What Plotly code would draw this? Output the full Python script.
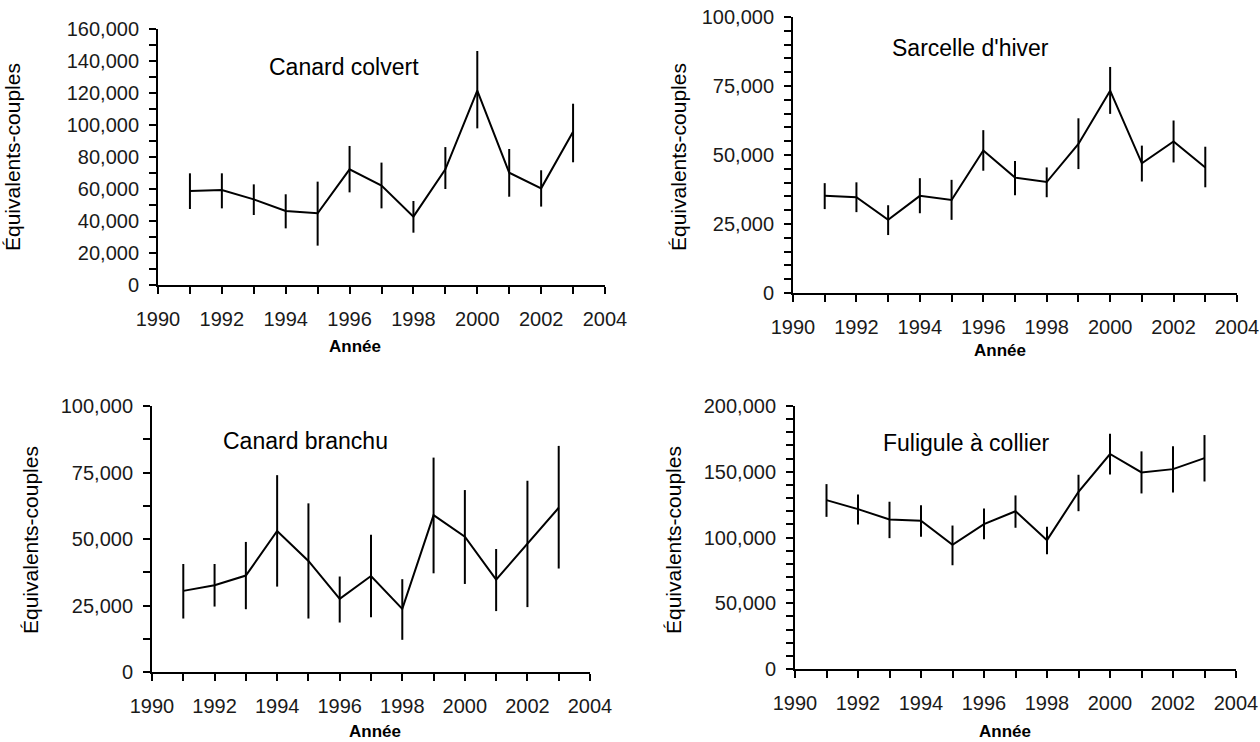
import plotly.graph_objects as go
from plotly.subplots import make_subplots

years = list(range(1991, 2004))

# Canard colvert
colvert = [58750, 59400, 53500, 46250, 44800, 72300, 62100, 42700, 72300, 121500, 70200, 60400, 95800]
colvert_hi = [69800, 69800, 62900, 56700, 64600, 86900, 76500, 52500, 86200, 146250, 85000, 71700, 113300]
colvert_lo = [47500, 47900, 43750, 35400, 24600, 57900, 47900, 32700, 60000, 97900, 55200, 49000, 76700]

# Sarcelle d'hiver
sarcelle = [35200, 34700, 26500, 35200, 33700, 51600, 41800, 40200, 54000, 73300, 47000, 54900, 45500]
sarcelle_hi = [39800, 40100, 31800, 41600, 41000, 59000, 47800, 45500, 63300, 81900, 53400, 62500, 53000]
sarcelle_lo = [30400, 29300, 21000, 28900, 26500, 44300, 35400, 34700, 44900, 64900, 40400, 47300, 38300]

# Canard branchu
branchu = [30500, 32600, 36250, 53000, 41750, 27500, 36100, 23750, 59000, 50900, 34750, 48400, 61750]
branchu_hi = [40600, 40600, 48900, 74000, 63400, 35900, 51600, 34900, 80600, 68400, 46250, 71900, 85000]
branchu_lo = [20100, 24600, 23600, 32100, 20100, 18600, 20600, 12100, 37100, 33100, 22900, 24400, 38900]

# Fuligule à collier
fuligule = [128400, 121600, 113700, 112700, 94400, 110200, 120000, 98000, 134800, 163500, 149500, 152000, 160400]
fuligule_hi = [140600, 132700, 127200, 124600, 109100, 122100, 132000, 108100, 147700, 178900, 165500, 169300, 177900]
fuligule_lo = [115700, 109900, 99500, 100500, 78900, 98700, 107400, 87300, 120000, 148000, 133500, 134300, 142600]

titles = ["Canard colvert", "Sarcelle d'hiver", "Canard branchu", "Fuligule à collier"]
y_max = [160000, 100000, 100000, 200000]
y_dtick = [20000, 25000, 25000, 50000]
y_minor = [10000, 5000, 12500, 10000]
x_ticks = [1990, 1992, 1994, 1996, 1998, 2000, 2002, 2004]

W, H = 1260, 742
# pixel boxes (left, right, top, bottom)
boxes = [(158, 605, 29, 285), (793, 1237, 17, 293), (152, 590, 406, 672), (795, 1236, 406, 669)]
title_pos = [(344, 67), (970, 48), (305, 441), (966, 443)]
ytitle_pos = [(13, 157), (679, 157), (30, 540), (673, 540)]
xtitle_pos = [(355, 346), (1000, 350), (375, 731), (1005, 731)]

series = [
    (colvert, colvert_hi, colvert_lo),
    (sarcelle, sarcelle_hi, sarcelle_lo),
    (branchu, branchu_hi, branchu_lo),
    (fuligule, fuligule_hi, fuligule_lo),
]

fig = make_subplots(rows=2, cols=2)
tick_font = dict(family="Liberation Sans, Arial, sans-serif", size=20, color="#1a1a1a")

for i, (vals, hi, lo) in enumerate(series):
    r, c = i // 2 + 1, i % 2 + 1
    fig.add_trace(go.Scatter(
        x=years, y=vals, mode="lines",
        line=dict(color="black", width=2),
        error_y=dict(type="data", symmetric=False,
                     array=[h - v for h, v in zip(hi, vals)],
                     arrayminus=[v - l for v, l in zip(vals, lo)],
                     color="black", thickness=2, width=0),
        showlegend=False, hoverinfo="skip"), row=r, col=c)
    L, R, T, B = boxes[i]
    xa = "xaxis" if i == 0 else f"xaxis{i+1}"
    ya = "yaxis" if i == 0 else f"yaxis{i+1}"
    fig.layout[xa].update(
        domain=[L / W, R / W], range=[1990, 2004], automargin=False,
        tickmode="array", tickvals=x_ticks, ticktext=[str(t) for t in x_ticks],
        showline=True, linecolor="black", linewidth=2, mirror=False,
        ticks="outside", ticklen=7, tickwidth=2, tickcolor="black",
        minor=dict(ticks="outside", dtick=1, tick0=1990, ticklen=7, tickwidth=2, tickcolor="black"),
        showgrid=False, zeroline=False, tickfont=tick_font, ticklabelstandoff=8, fixedrange=True)
    fig.layout[ya].update(
        domain=[1 - B / H, 1 - T / H], range=[0, y_max[i]], automargin=False,
        tick0=0, dtick=y_dtick[i], tickformat=",d",
        showline=True, linecolor="black", linewidth=2,
        ticks="outside", ticklen=7, tickwidth=2, tickcolor="black",
        minor=dict(ticks="outside", dtick=y_minor[i], tick0=0, ticklen=7, tickwidth=2, tickcolor="black"),
        showgrid=False, zeroline=False, tickfont=tick_font, ticklabelstandoff=6, fixedrange=True)

annotations = []
for i in range(4):
    tx, ty = title_pos[i]
    annotations.append(dict(text=titles[i], x=tx / W, y=1 - ty / H, xref="paper", yref="paper",
                            showarrow=False, xanchor="center", yanchor="middle",
                            font=dict(family="Liberation Sans, Arial, sans-serif", size=23, color="black")))
    yx, yy = ytitle_pos[i]
    annotations.append(dict(text="Équivalents-couples", x=yx / W, y=1 - yy / H, xref="paper", yref="paper",
                            showarrow=False, xanchor="center", yanchor="middle", textangle=-90,
                            font=dict(family="Liberation Sans Narrow, Arial Narrow, sans-serif", size=21, color="black")))
    xx, xy = xtitle_pos[i]
    annotations.append(dict(text="Année", x=xx / W, y=1 - xy / H, xref="paper", yref="paper",
                            showarrow=False, xanchor="center", yanchor="middle",
                            font=dict(family="Liberation Sans, Arial, sans-serif", size=17, color="black", weight="bold")))

fig.update_layout(width=W, height=H, margin=dict(l=0, r=0, t=0, b=0, autoexpand=False),
                  plot_bgcolor="white", paper_bgcolor="white", annotations=annotations)

fig.write_html("out.html", config={"displayModeBar": False},
               post_script="document.body.style.margin='0';")
